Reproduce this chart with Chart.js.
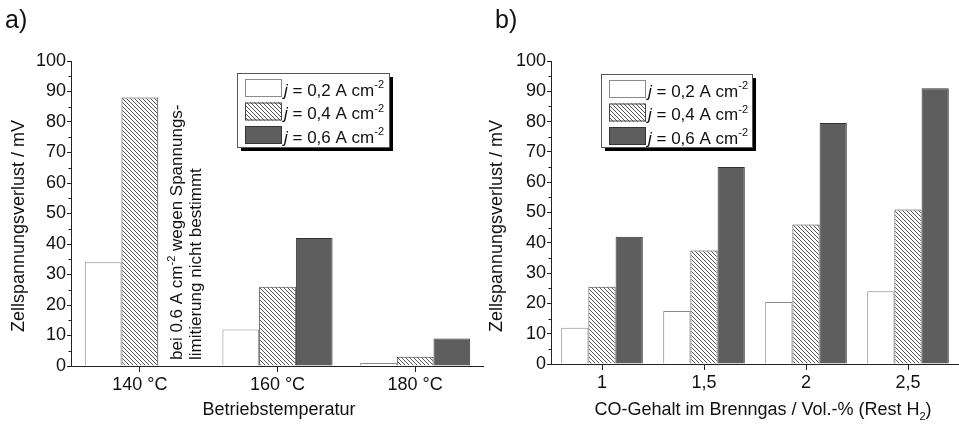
<!DOCTYPE html>
<html>
<head>
<meta charset="utf-8">
<script src="https://cdn.jsdelivr.net/npm/chart.js@4"></script>
<style>
  html, body { margin: 0; padding: 0; background: #fff; }
  #wrap { position: relative; width: 959px; height: 424px; overflow: hidden; }
  #wrap canvas { position: absolute; top: 0; }
  #chartA { left: 0; }
  #chartB { left: 480px; }
</style>
</head>
<body>
<div id="wrap">
  <canvas id="chartA" width="484" height="424"></canvas>
  <canvas id="chartB" width="479" height="424"></canvas>
</div>
<script>
// ----------- Daten -----------
const tempLabels = ['140 °C', '160 °C', '180 °C'];
const tempJ02 = [34, 12, 1];
const tempJ04 = [88, 26, 3];
const tempJ06 = [null, 42, 9];   // bei 140 °C nicht bestimmt

const coLabels = ['1', '1,5', '2', '2,5'];
const coJ02 = [12, 17.5, 20.5, 24];
const coJ04 = [25.5, 37.5, 46, 51];
const coJ06 = [42, 65, 79.5, 91];

const jValues = ['0,2', '0,4', '0,6'];

// ----------- Stil -----------
const FONT = "'Liberation Sans', Arial, sans-serif";
const INK = '#111';
const AXIS = '#222';
const FS = 18;
Chart.defaults.font.family = FONT;
Chart.defaults.font.size = FS;
Chart.defaults.color = INK;

function hatchPattern() {
    const c = document.createElement('canvas');
    c.width = 4; c.height = 4;
    const g = c.getContext('2d');
    g.fillStyle = '#fff';
    g.fillRect(0, 0, 4, 4);
    g.strokeStyle = '#555';
    g.lineWidth = 1;
    g.beginPath();
    g.moveTo(-1, -1); g.lineTo(5, 5);
    g.moveTo(-1, 3); g.lineTo(1, 5);
    g.moveTo(3, -1); g.lineTo(5, 1);
    g.stroke();
    return g.createPattern(c, 'repeat');
}
const HATCH = hatchPattern();

const barStyles = [
    { backgroundColor: '#fff', borderColor: '#8a8a8a' },
    { backgroundColor: HATCH, borderColor: '#444' },
    { backgroundColor: '#5e5e5e', borderColor: '#333' }
];

// Text mit Hoch-/Tiefstellung: parts = [{t, it, sup, sub}]
function partFont(p, size) {
    const s = (p.sup || p.sub) ? Math.round(size * 0.62) : size;
    return (p.it ? 'italic ' : '') + s + 'px ' + FONT;
}
function richWidth(ctx, parts, size) {
    let w = 0;
    parts.forEach(p => { ctx.font = partFont(p, size); w += ctx.measureText(p.t).width; });
    return w;
}
function drawRich(ctx, parts, x, y, size) {
    ctx.textAlign = 'left';
    ctx.textBaseline = 'alphabetic';
    ctx.fillStyle = INK;
    parts.forEach(p => {
        ctx.font = partFont(p, size);
        const dy = p.sup ? -size * 0.42 : (p.sub ? size * 0.28 : 0);
        ctx.fillText(p.t, x, y + dy);
        x += ctx.measureText(p.t).width;
    });
}

function drawLegend(ctx, x, y, w, h) {
    ctx.save();
    ctx.fillStyle = '#000';
    ctx.fillRect(x + 4, y + 4, w, h);
    ctx.fillStyle = '#fff';
    ctx.fillRect(x, y, w, h);
    ctx.strokeStyle = '#555';
    ctx.lineWidth = 1;
    ctx.strokeRect(x + 0.5, y + 0.5, w, h);
    for (let i = 0; i < 3; i++) {
        const ry = y + 6 + i * 23.5;
        ctx.fillStyle = barStyles[i].backgroundColor;
        ctx.fillRect(x + 8, ry, 37, 18);
        ctx.strokeStyle = barStyles[i].borderColor;
        ctx.strokeRect(x + 8.5, ry + 0.5, 36, 17);
        drawRich(ctx, [
            { t: 'j', it: true },
            { t: ' = ' + jValues[i] + ' A cm' },
            { t: '-2', sup: true }
        ], x + 47, ry + 16.5, 17);
    }
    ctx.restore();
}

// Beschriftungen, Legende, Nebenstriche
function panelPlugin(cfg) {
    return {
        id: 'panelDeko',
        afterDraw(chart) {
            const ctx = chart.ctx;
            const y = chart.scales.y;
            const left = chart.chartArea.left;
            ctx.save();

            // Nebenstriche bei 5, 15, ... 95
            ctx.strokeStyle = AXIS;
            ctx.lineWidth = 1;
            ctx.beginPath();
            for (let v = 5; v < 100; v += 10) {
                const py = Math.round(y.getPixelForValue(v)) + 0.5;
                ctx.moveTo(left - 2.5, py);
                ctx.lineTo(left, py);
            }
            ctx.stroke();

            // a) / b)
            ctx.fillStyle = INK;
            ctx.font = '25px ' + FONT;
            ctx.textAlign = 'left';
            ctx.textBaseline = 'alphabetic';
            ctx.fillText(cfg.letter, cfg.letterX, 28);

            // y-Titel
            ctx.save();
            ctx.translate(cfg.yTitleX, 226);
            ctx.rotate(-Math.PI / 2);
            ctx.font = FS + 'px ' + FONT;
            ctx.textAlign = 'center';
            ctx.fillText('Zellspannungsverlust / mV', 0, 0);
            ctx.restore();

            // x-Titel
            const w = richWidth(ctx, cfg.xTitle, FS);
            drawRich(ctx, cfg.xTitle, cfg.xTitleCenter - w / 2, 415, FS);

            drawLegend(ctx, cfg.legend[0], cfg.legend[1], cfg.legend[2], cfg.legend[3]);

            if (cfg.note) {
                cfg.note.forEach(n => {
                    ctx.save();
                    ctx.translate(n.x, 360);
                    ctx.rotate(-Math.PI / 2);
                    drawRich(ctx, n.parts, 0, 0, 17);
                    ctx.restore();
                });
            }
            ctx.restore();
        }
    };
}

function makeChart(id, labels, series, xHeight, cfg) {
    return new Chart(document.getElementById(id), {
        type: 'bar',
        data: {
            labels,
            datasets: series.map((d, i) => ({
                data: d,
                backgroundColor: barStyles[i].backgroundColor,
                borderColor: barStyles[i].borderColor,
                borderWidth: 1,
                borderSkipped: 'bottom',
                categoryPercentage: 0.8,
                barPercentage: 1.0
            }))
        },
        options: {
            responsive: false,
            animation: false,
            layout: { padding: { top: 61, left: 0, right: 0, bottom: 0 } },
            plugins: { legend: { display: false }, tooltip: { enabled: false } },
            scales: {
                x: {
                    offset: true,
                    grid: { offset: false, drawOnChartArea: false, drawTicks: true, tickLength: 6, color: AXIS },
                    border: { display: true, color: AXIS, width: 1 },
                    ticks: { padding: 2, maxRotation: 0, autoSkip: false, color: INK },
                    afterFit(s) { s.height = xHeight; }
                },
                y: {
                    min: 0, max: 100,
                    ticks: { stepSize: 10, padding: 1, color: INK },
                    grid: { drawOnChartArea: false, drawTicks: true, tickLength: 4, color: AXIS },
                    border: { display: true, color: AXIS, width: 1 },
                    afterFit(s) { s.width = 71; }
                }
            }
        },
        plugins: [panelPlugin(cfg)]
    });
}

makeChart('chartA', tempLabels, [tempJ02, tempJ04, tempJ06], 58, {
    letter: 'a)', letterX: 5, yTitleX: 24,
    xTitle: [{ t: 'Betriebstemperatur' }], xTitleCenter: 279,
    legend: [237, 73, 152, 74],
    note: [
        { x: 182, parts: [{ t: 'bei 0.6 A cm' }, { t: '-2', sup: true }, { t: ' wegen Spannungs-' }] },
        { x: 201, parts: [{ t: 'limitierung nicht bestimmt' }] }
    ]
});

makeChart('chartB', coLabels, [coJ02, coJ04, coJ06], 60, {
    letter: 'b)', letterX: 15, yTitleX: 22,
    xTitle: [{ t: 'CO-Gehalt im Brenngas / Vol.-% (Rest H' }, { t: '2', sub: true }, { t: ')' }],
    xTitleCenter: 283,
    legend: [121, 74, 151, 73],
    note: null
});
</script>
</body>
</html>
